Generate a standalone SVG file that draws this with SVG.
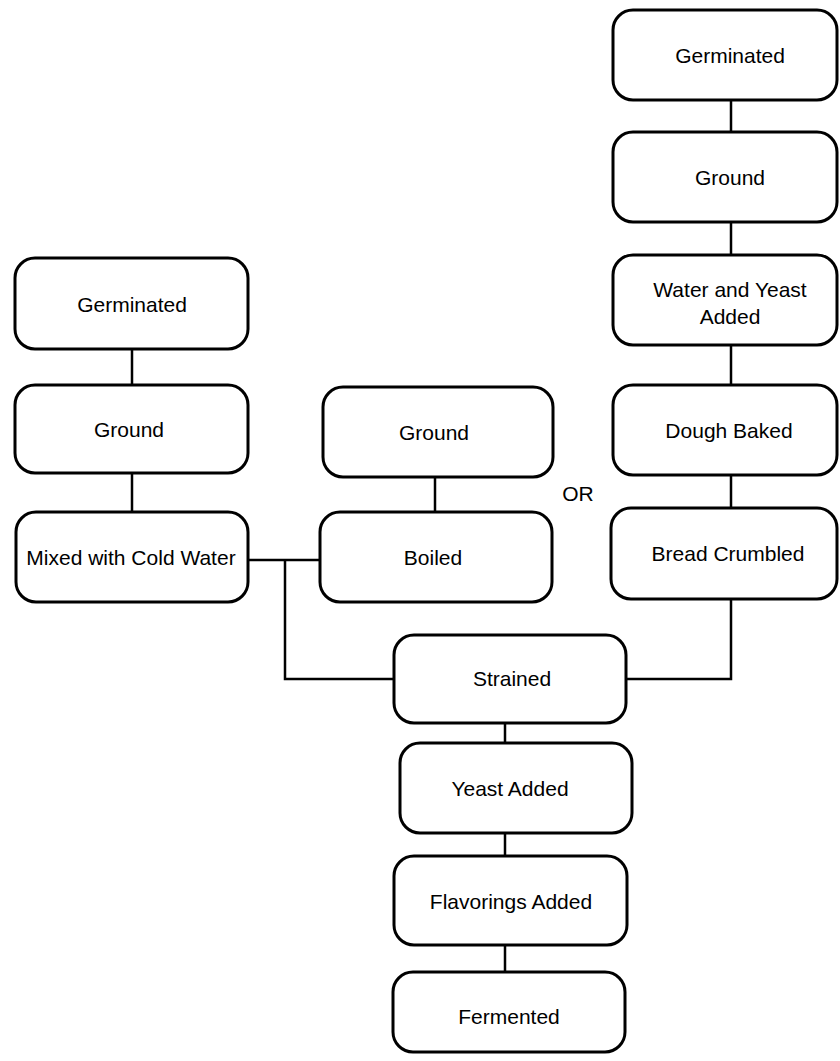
<svg xmlns="http://www.w3.org/2000/svg" width="840" height="1061" viewBox="0 0 840 1061">
<style>
.box{fill:#fff;stroke:#000;stroke-width:3}
.lbl{font-family:"Liberation Sans",Arial,sans-serif;font-size:21px;fill:#000;text-anchor:middle}
.con{fill:none;stroke:#000;stroke-width:2.5}
</style>
<rect width="840" height="1061" fill="#fff"/>
<g id="connectors">
<path class="con" d="M132 349V385M132 473V512"/>
<path class="con" d="M435 477V512"/>
<path class="con" d="M248 560H320M285 560V679H394"/>
<path class="con" d="M731 100V132M731 222V255M731 345V385M731 475V508M731 599V679H626"/>
<path class="con" d="M505 723V743M505 833V856M505 945V972"/>
</g>
<g id="n-left-germinated"><rect class="box" x="15" y="258" width="233" height="91" rx="20"/><text class="lbl" x="132" y="312">Germinated</text></g>
<g id="n-left-ground"><rect class="box" x="15" y="385" width="233" height="88" rx="20"/><text class="lbl" x="129" y="437">Ground</text></g>
<g id="n-mixed"><rect class="box" x="16" y="512" width="232" height="90" rx="20"/><text class="lbl" x="131" y="565">Mixed with Cold Water</text></g>
<g id="n-mid-ground"><rect class="box" x="323" y="387" width="230" height="90" rx="20"/><text class="lbl" x="434" y="440">Ground</text></g>
<g id="n-boiled"><rect class="box" x="320" y="512" width="232" height="90" rx="20"/><text class="lbl" x="433" y="565">Boiled</text></g>
<g id="or-label"><text class="lbl" x="578" y="501">OR</text></g>
<g id="n-right-germinated"><rect class="box" x="613" y="10" width="224" height="90" rx="20"/><text class="lbl" x="730" y="63">Germinated</text></g>
<g id="n-right-ground"><rect class="box" x="613" y="132" width="224" height="90" rx="20"/><text class="lbl" x="730" y="185">Ground</text></g>
<g id="n-water-yeast"><rect class="box" x="613" y="255" width="224" height="90" rx="20"/><text class="lbl" x="730" y="297">Water and Yeast</text><text class="lbl" x="730" y="324">Added</text></g>
<g id="n-dough"><rect class="box" x="613" y="385" width="224" height="90" rx="20"/><text class="lbl" x="729" y="438">Dough Baked</text></g>
<g id="n-bread"><rect class="box" x="611" y="508" width="226" height="91" rx="20"/><text class="lbl" x="728" y="561">Bread Crumbled</text></g>
<g id="n-strained"><rect class="box" x="394" y="635" width="232" height="88" rx="20"/><text class="lbl" x="512" y="686">Strained</text></g>
<g id="n-yeast"><rect class="box" x="400" y="743" width="232" height="90" rx="20"/><text class="lbl" x="510" y="796">Yeast Added</text></g>
<g id="n-flavorings"><rect class="box" x="394" y="856" width="233" height="89" rx="20"/><text class="lbl" x="511" y="909">Flavorings Added</text></g>
<g id="n-fermented"><rect class="box" x="393" y="972" width="232" height="80" rx="20"/><text class="lbl" x="509" y="1024">Fermented</text></g>
</svg>
